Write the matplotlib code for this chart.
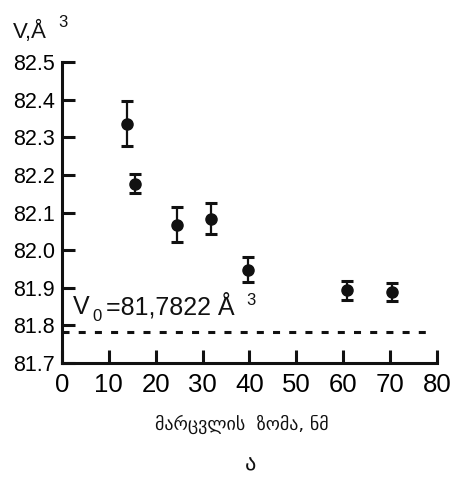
import matplotlib
matplotlib.use("Agg")
import matplotlib.pyplot as plt

# grain size, nm / unit cell volume, A^3
size_nm = [13.9, 15.5, 24.6, 31.8, 39.7, 60.7, 70.5]
volume = [82.336, 82.176, 82.068, 82.084, 81.948, 81.893, 81.889]
volume_err = [0.060, 0.025, 0.047, 0.042, 0.034, 0.025, 0.023]
v0 = 81.7822

xticks = [0, 10, 20, 30, 40, 50, 60, 70, 80]
yticks = [81.7, 81.8, 81.9, 82.0, 82.1, 82.2, 82.3, 82.4, 82.5]

W, H = 456, 478
sans = ['Liberation Sans', 'DejaVu Sans']

fig = plt.figure(figsize=(W / 100, H / 100), dpi=100)
ax = fig.add_axes([62 / W, 1 - 363 / H, (437 - 62) / W, (363 - 62) / H])

ax.errorbar(size_nm, volume, yerr=volume_err, fmt='o', color='#111111',
            ms=8, elinewidth=1.6, capsize=4, capthick=2.2)
ax.plot([0, 78.4], [v0, v0], color='#111111', lw=2.2, dashes=(2.3, 3.0))

ax.set_xlim(0, 80)
ax.set_ylim(81.7, 82.5)
ax.set_xticks(xticks)
ax.set_xticklabels([str(t) for t in xticks], family=sans, fontsize=18.5)
ax.set_yticks(yticks)
ax.set_yticklabels([f"{t:.1f}" for t in yticks], family=sans, fontsize=15.5)

for s in ['top', 'right']:
    ax.spines[s].set_visible(False)
for s in ['left', 'bottom']:
    ax.spines[s].set_linewidth(2.2)
    ax.spines[s].set_color('#111111')
ax.tick_params(direction='in', length=9.4, width=2.2, color='#111111')
ax.tick_params(axis='x', pad=7)
ax.tick_params(axis='y', pad=5)

def ftext(x, y, s, **kw):
    fig.text(x / W, 1 - y / H, s, va='baseline', color='#111111', **kw)

# y axis label
ftext(13, 38, "V,Å", family=sans, fontsize=16)
ftext(58, 27, "3", family=sans, fontsize=12)

# V0 annotation
ftext(73, 314, "V", family=sans, fontsize=18)
ftext(92, 321, "0", family=sans, fontsize=12)
ftext(106, 315, "=81,7822 Å", family=sans, fontsize=18)
ftext(246, 305, "3", family=sans, fontsize=12)

# x axis label and panel letter
fig.text(242 / W, 1 - 424 / H, "მარცვლის  ზომა, ნმ", ha='center', va='center',
         fontsize=13, color='#111111')
fig.text(250 / W, 1 - 464 / H, "ა", ha='center', va='center',
         fontsize=16, color='#111111')

fig.savefig("out.png", dpi=100)
